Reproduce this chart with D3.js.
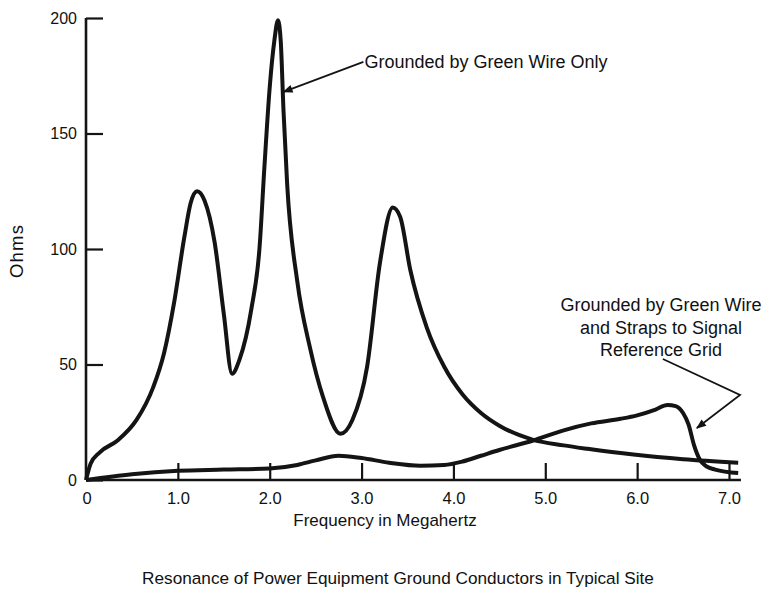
<!DOCTYPE html>
<html>
<head>
<meta charset="utf-8">
<script src="https://cdn.jsdelivr.net/npm/d3@7"></script>
<style>
  html, body { margin: 0; padding: 0; background: #fff; }
  svg text { font-family: "Liberation Sans", Arial, Helvetica, sans-serif; fill: #111; }
</style>
</head>
<body>
<svg id="chart" width="768" height="591"></svg>
<script>
// ---- data ----
const xTicks = [1, 2, 3, 4, 5, 6, 7];
const xTickLabels = ["1.0", "2.0", "3.0", "4.0", "5.0", "6.0", "7.0"];
const yTicks = [0, 50, 100, 150, 200];
const yTickLabels = ["0", "50", "100", "150", "200"];

// Grounded by green wire only
const wireFreq = [0, 0.05, 0.15, 0.34, 0.55, 0.73, 0.85, 0.96, 1.07, 1.14, 1.21, 1.29, 1.4, 1.5, 1.59, 1.67, 1.8, 1.89, 1.94, 2.0, 2.05, 2.09, 2.12, 2.15, 2.19, 2.3, 2.44, 2.58, 2.77, 2.9, 3.06, 3.2, 3.34, 3.42, 3.53, 3.71, 3.9, 4.1, 4.3, 4.5, 4.86, 5.2, 5.46, 5.96, 6.5, 7.1];
const wireOhms = [0, 7, 12, 17, 26, 40, 55, 77, 105, 120, 125, 121, 103, 72, 46, 52, 74, 101, 134, 170, 190, 199, 190, 160, 128, 86, 57, 36, 20, 26, 49, 94, 118, 114, 91, 66, 49, 37, 29, 23.5, 17.5, 15, 13.5, 11, 9, 7.5];

// Grounded by green wire and straps to signal reference grid
const gridFreq = [0, 0.5, 1.0, 1.5, 2.0, 2.3, 2.5, 2.75, 3.0, 3.3, 3.64, 3.9, 4.1, 4.3, 4.5, 4.86, 5.2, 5.5, 5.82, 6.0, 6.2, 6.33, 6.42, 6.5, 6.56, 6.62, 6.68, 6.75, 6.85, 7.1];
const gridOhms = [0, 2.5, 4, 4.5, 5, 6.5, 8.5, 10.5, 9.5, 7.5, 6.2, 6.5, 8, 10.5, 13, 17, 21.5, 24.5, 26.5, 28, 30.5, 32.5, 32, 29, 24, 15, 9, 6, 4.5, 3];

// annotation texts and anchor points (data coordinates)
const note1Text = ["Grounded by Green Wire Only"];
const note1Line = [[3.02, 181], [2.15, 168]];
const note2Text = ["Grounded by Green Wire", "and Straps to Signal", "Reference Grid"];
const note2Line = [[6.28, 52.4], [7.12, 36.8], [6.65, 22.5]];

const xTitle = "Frequency in Megahertz";
const yTitle = "Ohms";
const caption = "Resonance of Power Equipment Ground Conductors in Typical Site";

// ---- drawing ----
const svg = d3.select("#chart");
const x = d3.scaleLinear().domain([0, 7]).range([86, 729]);
const y = d3.scaleLinear().domain([0, 200]).range([480, 18]);
const ink = "#141414";

svg.append("defs").append("marker")
  .attr("id", "arrow").attr("viewBox", "0 0 10 10")
  .attr("refX", 9).attr("refY", 5)
  .attr("markerWidth", 14).attr("markerHeight", 10)
  .attr("markerUnits", "userSpaceOnUse")
  .attr("orient", "auto")
  .append("path").attr("d", "M0,1 L10,5 L0,9 Z").attr("fill", ink);

// axes
const xAxis = d3.axisBottom(x)
  .tickValues(xTicks)
  .tickFormat((d, i) => xTickLabels[i])
  .tickSizeInner(-17).tickSizeOuter(0).tickPadding(12);
const gx = svg.append("g").attr("transform", `translate(0,${y(0)})`).call(xAxis);
gx.select(".domain").remove();
gx.selectAll(".tick line").attr("stroke", ink).attr("stroke-width", 2.2);
gx.selectAll(".tick text").attr("font-size", 16.5).attr("fill", ink);
gx.append("text").attr("x", x(0) + 1).attr("y", 12).attr("dy", "0.71em")
  .attr("text-anchor", "middle").attr("font-size", 16.5).attr("fill", ink).text("0");

const yAxis = d3.axisLeft(y)
  .tickValues(yTicks)
  .tickFormat((d, i) => yTickLabels[i])
  .tickSizeInner(-17).tickSizeOuter(0).tickPadding(9);
const gy = svg.append("g").attr("transform", `translate(${x(0)},0)`).call(yAxis);
gy.select(".domain").remove();
gy.selectAll(".tick line").attr("stroke", ink).attr("stroke-width", 2.2);
gy.selectAll(".tick text").attr("font-size", 16).attr("fill", ink);

// axis lines
svg.append("line").attr("x1", x(0)).attr("x2", x(7.13)).attr("y1", y(0)).attr("y2", y(0))
  .attr("stroke", ink).attr("stroke-width", 2.6);
svg.append("line").attr("x1", x(0)).attr("x2", x(0)).attr("y1", y(0)).attr("y2", y(200))
  .attr("stroke", ink).attr("stroke-width", 2.6);

// curves
const line = d3.line().x(d => x(d[0])).y(d => y(d[1])).curve(d3.curveMonotoneX);
svg.append("path").datum(d3.zip(wireFreq, wireOhms)).attr("d", line)
  .attr("fill", "none").attr("stroke", ink).attr("stroke-width", 4).attr("stroke-linejoin", "round");
svg.append("path").datum(d3.zip(gridFreq, gridOhms)).attr("d", line)
  .attr("fill", "none").attr("stroke", ink).attr("stroke-width", 4).attr("stroke-linejoin", "round");

// annotations
const straight = d3.line().x(d => x(d[0])).y(d => y(d[1]));
svg.append("path").datum(note1Line).attr("d", straight)
  .attr("fill", "none").attr("stroke", ink).attr("stroke-width", 1.8).attr("marker-end", "url(#arrow)");
svg.append("text").attr("x", x(note1Line[0][0]) + 1).attr("y", y(note1Line[0][1]))
  .attr("dy", "0.35em").attr("font-size", 18).text(note1Text[0]);

svg.append("path").datum(note2Line).attr("d", straight)
  .attr("fill", "none").attr("stroke", ink).attr("stroke-width", 1.8).attr("marker-end", "url(#arrow)");
const t2 = svg.append("text").attr("text-anchor", "middle").attr("font-size", 18);
note2Text.forEach((s, i) => {
  t2.append("tspan").attr("x", 661).attr("y", 311 + i * 22.5).text(s);
});

// titles
svg.append("text").attr("x", 385).attr("y", 526).attr("text-anchor", "middle")
  .attr("font-size", 17).text(xTitle);
svg.append("text").attr("transform", "translate(23,251) rotate(-90)").attr("text-anchor", "middle")
  .attr("font-size", 18.5).attr("letter-spacing", 1.2).text(yTitle);
svg.append("text").attr("x", 398).attr("y", 584).attr("text-anchor", "middle")
  .attr("font-size", 17.2).text(caption);
</script>
</body>
</html>
